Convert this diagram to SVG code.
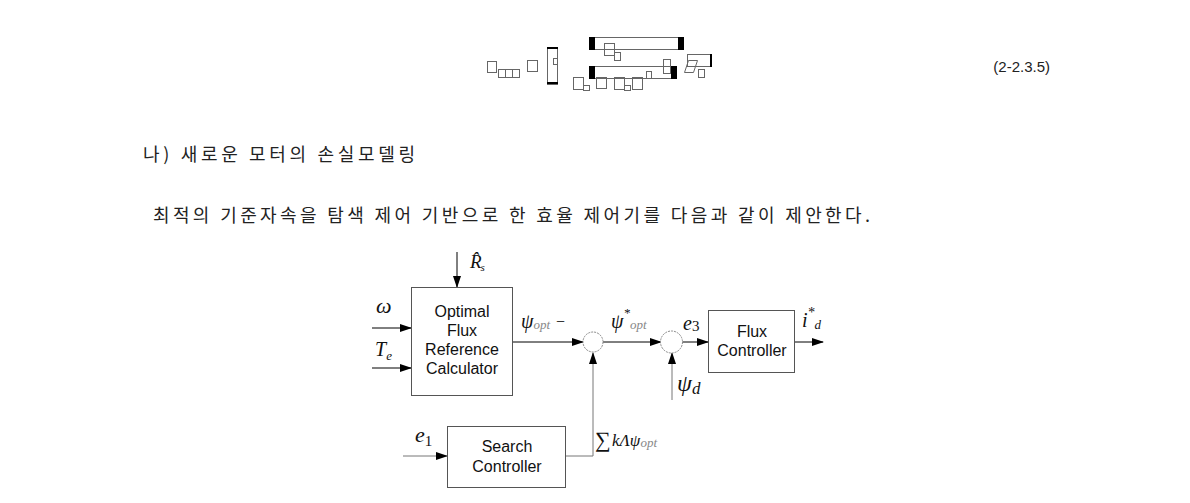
<svg xmlns="http://www.w3.org/2000/svg" width="1190" height="503" viewBox="0 0 1190 503">
<style>
.box{fill:#fff;stroke:#555;stroke-width:1}
.ln{fill:none;stroke:#000;stroke-width:1}
.lg{fill:none;stroke:#777;stroke-width:1}
.sum{fill:#fff;stroke:#888;stroke-width:1;stroke-dasharray:2 1}
.lbl{font-family:"Liberation Sans",Arial,sans-serif;font-size:16px;fill:#111;text-anchor:middle}
.m{font-family:"Liberation Serif","DejaVu Serif",serif;font-style:italic;fill:#111}
.ko{font-family:"Noto Sans CJK KR","Noto Sans",sans-serif;font-size:18px;fill:#222}
.t{fill:none;stroke:#666;stroke-width:1}
.tb{fill:#000}
</style>
<defs>
<marker id="ah" markerUnits="userSpaceOnUse" markerWidth="12" markerHeight="8" refX="11" refY="4" orient="auto">
<path d="M0,0 L12,4 L0,8 Z" fill="#000"/>
</marker>
</defs>

<g id="equation">
<rect class="t" x="487.5" y="61.5" width="9" height="11"/>
<rect class="t" x="498.5" y="69.5" width="7" height="8"/>
<rect class="t" x="505.5" y="69.5" width="7" height="8"/>
<rect class="t" x="512.5" y="69.5" width="7" height="8"/>
<rect class="t" x="527.5" y="60.5" width="10" height="11"/>
<rect class="t" x="547.5" y="47.5" width="10" height="37"/>
<rect class="tb" x="547" y="47" width="11" height="2"/>
<rect class="tb" x="547" y="82" width="11" height="2"/>
<rect class="t" x="553.5" y="58.5" width="4" height="6"/>
<rect class="t" x="589.5" y="37.5" width="93" height="12" stroke="#333"/>
<rect class="tb" x="589" y="37" width="6" height="13"/>
<rect class="tb" x="678" y="37" width="6" height="13"/>
<rect class="t" x="604.5" y="43.5" width="10" height="12"/>
<rect class="t" x="614.5" y="52.5" width="6" height="8"/>
<rect class="t" x="589.5" y="66.5" width="86" height="12" stroke="#333"/>
<rect class="tb" x="589" y="66" width="6" height="13"/>
<rect class="tb" x="671" y="66" width="6" height="13"/>
<rect class="t" x="663.5" y="59.5" width="7" height="14"/>
<rect class="t" x="646.5" y="71.5" width="5" height="7"/>
<rect class="t" x="573.5" y="77.5" width="10" height="12"/>
<rect class="t" x="583.5" y="85.5" width="6" height="5"/>
<rect class="t" x="596.5" y="77.5" width="10" height="11"/>
<rect class="t" x="614.5" y="77.5" width="10" height="12"/>
<rect class="t" x="624.5" y="85.5" width="6" height="5"/>
<rect class="t" x="632.5" y="77.5" width="10" height="12"/>
<rect class="t" x="687.5" y="54.5" width="24" height="12" stroke="#333"/>
<rect class="tb" x="710" y="54" width="2" height="13"/>
<path class="t" d="M688.5,60.5 L697.5,60.5 L693.5,72.5 L684.5,72.5 Z"/>
<rect class="t" x="698.5" y="69.5" width="6" height="8"/>
</g>
<text x="1050" y="72" font-family="Liberation Sans,Arial,sans-serif" font-size="15" text-anchor="end" fill="#222">(2-2.3.5)</text>

<text class="ko" x="143" y="161" textLength="272" lengthAdjust="spacing">나) 새로운 모터의 손실모델링</text>
<text class="ko" x="153" y="222" textLength="717" lengthAdjust="spacing">최적의 기준자속을 탐색 제어 기반으로 한 효율 제어기를 다음과 같이 제안한다.</text>

<g id="connectors">
<path class="ln" d="M457,252 V287" marker-end="url(#ah)"/>
<path class="ln" d="M372,328 H411" marker-end="url(#ah)"/>
<path class="ln" d="M372,368 H411" marker-end="url(#ah)"/>
<path class="ln" d="M513,342 H583" marker-end="url(#ah)"/>
<path class="ln" d="M603,342 H661" marker-end="url(#ah)"/>
<path class="ln" d="M682,342 H708" marker-end="url(#ah)"/>
<path class="ln" d="M795,342 H823" marker-end="url(#ah)"/>
<path class="lg" d="M672,400 V353" marker-end="url(#ah)"/>
<path class="lg" d="M566,456 H593 V353" marker-end="url(#ah)"/>
<path class="lg" d="M403,456 H447" marker-end="url(#ah)"/>
</g>

<g id="optimal-flux-reference-calculator">
<rect class="box" x="411.5" y="287.5" width="101" height="108"/>
<text class="lbl" x="462" y="317">Optimal</text>
<text class="lbl" x="462" y="336">Flux</text>
<text class="lbl" x="462" y="355">Reference</text>
<text class="lbl" x="462" y="374">Calculator</text>
</g>

<g id="sum1"><circle class="sum" cx="593" cy="342" r="10"/></g>
<g id="sum2"><circle class="sum" cx="671.5" cy="342" r="11"/></g>

<g id="flux-controller">
<rect class="box" x="708.5" y="310.5" width="86" height="62"/>
<text class="lbl" x="752" y="337">Flux</text>
<text class="lbl" x="752" y="356">Controller</text>
</g>

<g id="search-controller">
<rect class="box" x="447.5" y="426.5" width="118" height="61"/>
<text class="lbl" x="507" y="452">Search</text>
<text class="lbl" x="507" y="472">Controller</text>
</g>

<g id="labels">
<text class="m" x="470" y="268" font-size="19">R&#x302;<tspan font-size="11" dx="-1" dy="3">s</tspan></text>
<text class="m" x="376" y="313" font-size="22">ω</text>
<text class="m" x="375" y="356" font-size="20">T<tspan font-size="13" dy="4">e</tspan></text>
<text class="m" x="521" y="328" font-size="20">ψ<tspan font-size="13" dy="1" fill="#888">opt</tspan><tspan font-size="16" font-style="normal" fill="#111" dx="6" dy="-2">−</tspan></text>
<text class="m" x="611" y="328" font-size="20">ψ<tspan font-size="13" dy="-11">*</tspan><tspan font-size="13" dy="12" fill="#888">opt</tspan></text>
<text class="m" x="683" y="330" font-size="20">e<tspan font-size="15" dy="1" font-style="normal">3</tspan></text>
<text class="m" x="802" y="327" font-size="20">i<tspan font-size="14" dy="-10">*</tspan><tspan font-size="13" dy="12">d</tspan></text>
<text class="m" x="677" y="391" font-size="24">ψ<tspan font-size="17" dy="3">d</tspan></text>
<text class="m" x="415" y="442" font-size="22">e<tspan font-size="15" dy="4" font-style="normal">1</tspan></text>
<text x="595" y="447" font-family="Liberation Serif,serif" font-size="22" fill="#111">∑</text>
<text class="m" x="612" y="446" font-size="17">kΛψ<tspan font-size="13" dy="1" fill="#888">opt</tspan></text>
</g>
</svg>
